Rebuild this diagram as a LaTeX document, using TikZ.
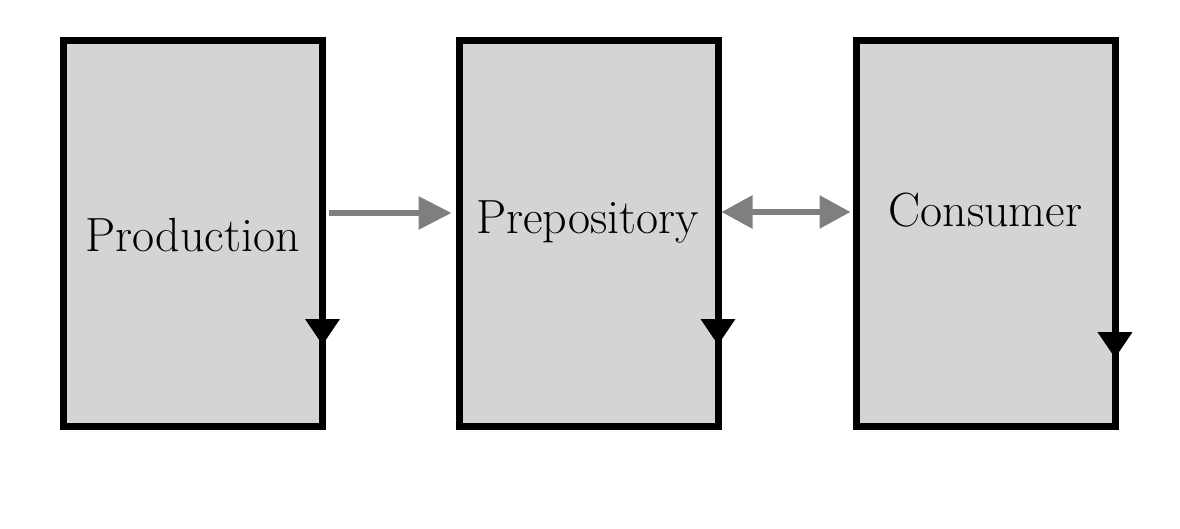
\documentclass[tikz,border=0pt]{standalone}
\usetikzlibrary{arrows.meta,decorations.markings}

\definecolor{boxgray}{HTML}{D4D4D4}
\definecolor{flowgray}{HTML}{7F7F7F}

\tikzset{
  stage/.style={draw=black,line width=3.5pt,fill=boxgray,minimum width=129.5pt,
    minimum height=193pt,inner sep=0pt,outer sep=0pt},
  stagename/.style={anchor=base,inner sep=0pt,font=\fontsize{24}{28}\selectfont},
  flow/.style={draw=flowgray,line width=3pt,-{Triangle[length=16.5pt,width=16pt]}},
  twoway/.style={draw=flowgray,line width=3pt,{Triangle[length=15.5pt,width=16pt]}-{Triangle[length=15.5pt,width=16pt]}},
  downedge/.style={draw=black,line width=3.5pt,postaction={decorate},
    decoration={markings,mark=at position #1 with {\arrow{Triangle[length=13pt,width=16.5pt]}}}}
}

\begin{document}
\begin{tikzpicture}[x=0.5pt,y=0.5pt]
  \useasboundingbox (0,0) rectangle (1180,529);

  % the three stages
  \node[stage] (prod) at (193,295.5) {};
  \node[stage] (prep) at (588.5,295.5) {};
  \node[stage] (cons) at (985.5,295.5) {};

  \node[stagename] (prodname) at (192.5,277) {Production};
  \node[stagename] (prepname) at (587.5,295) {Prepository};
  \node[stagename] (consname) at (985.5,302) {Consumer};

  % right edges run downwards
  \draw[downedge=0.789] (prod.north east) -- (prod.south east);
  \draw[downedge=0.789] (prep.north east) -- (prep.south east);
  \draw[downedge=0.823] (cons.north east) -- (cons.south east);

  % links between stages
  \draw[flow,shorten <=3.25pt,shorten >=3.75pt] ([yshift=10.25pt]prod.east) -- ([yshift=10.25pt]prep.west);
  \draw[twoway,shorten <=1.75pt,shorten >=2.75pt] ([yshift=10.75pt]prep.east) -- ([yshift=10.75pt]cons.west);
\end{tikzpicture}
\end{document}
